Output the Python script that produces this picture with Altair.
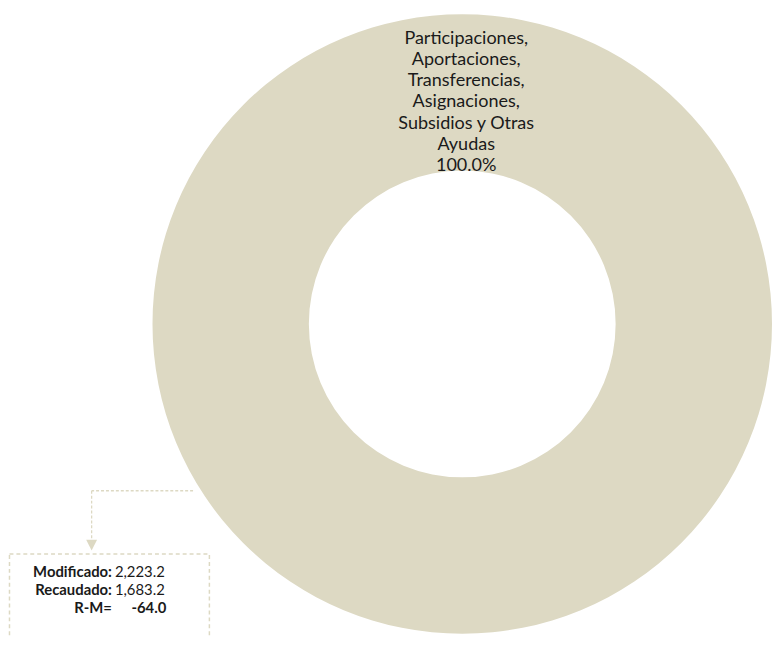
import altair as alt
import pandas as pd

# ---- data ----
categories = ["Participaciones, Aportaciones, Transferencias, Asignaciones, Subsidios y Otras Ayudas"]
label_lines = [["Participaciones,", "Aportaciones,", "Transferencias,", "Asignaciones,", "Subsidios y Otras", "Ayudas"]]
values = [1683.2]

note_labels = ["Modificado:", "Recaudado:", "R-M="]
note_values = [2223.2, 1683.2, -64.0]

# ---- layout constants (svg coordinates; page = svg + 8) ----
W, H = 772, 628
CX, CY = 459, 316
R_OUT, R_IN = 313, 155
FILL = "#ddd9c3"
LINE = "#ddd9c3"
FONT = "Lato"

total = sum(values)
donut_df = pd.DataFrame({
    "category": categories,
    "value": values,
    "label": ["\n".join(lines + [f"{v / total * 100:.1f}%"]) for lines, v in zip(label_lines, values)],
})

donut = alt.Chart(donut_df).mark_arc(
    innerRadius=R_IN, outerRadius=R_OUT, stroke=None
).encode(
    theta=alt.Theta("value:Q", stack=True),
    color=alt.Color("category:N", scale=alt.Scale(range=[FILL]), legend=None),
    x=alt.value(CX), y=alt.value(CY),
)

label = alt.Chart(donut_df).mark_text(
    lineBreak="\n", align="center", baseline="alphabetic",
    font=FONT, fontSize=18.2, lineHeight=21.4, color="#1a1a1a",
).encode(
    text="label:N", x=alt.value(CX + 4), y=alt.value(33),
)

one = pd.DataFrame({"a": [0]})

hline = alt.Chart(one).mark_rule(color=LINE, strokeWidth=1.3, strokeDash=[3, 2]).encode(
    x=alt.value(187), x2=alt.value(84.5), y=alt.value(484.5)
)
vline = alt.Chart(one).mark_rule(color=LINE, strokeWidth=1.3, strokeDash=[3, 2]).encode(
    x=alt.value(84.5), y=alt.value(484.5), y2=alt.value(535)
)
arrow = alt.Chart(one).mark_point(
    shape="M-1,-1L1,-1L0,1Z", filled=True, size=121, color=LINE, opacity=1, strokeWidth=0
).encode(x=alt.value(84.5), y=alt.value(539.5))

box = alt.Chart(one).mark_rect(
    fill="white", fillOpacity=0, stroke=LINE, strokeWidth=1.5, strokeDash=[4, 3]
).encode(x=alt.value(1.5), x2=alt.value(203.5), y=alt.value(548.5), y2=alt.value(720))

note_layers = []
ys = [572, 590, 608]
for i, (lab, val) in enumerate(zip(note_labels, note_values)):
    df = pd.DataFrame({"lab": [lab], "val": [f"{val:,.1f}"]})
    last = i == len(note_labels) - 1
    note_layers.append(
        alt.Chart(df).mark_text(
            align="right", baseline="alphabetic", font=FONT, fontSize=15,
            fontWeight="bold", color="#1a1a1a",
        ).encode(text="lab:N", x=alt.value(105), y=alt.value(ys[i]))
    )
    note_layers.append(
        alt.Chart(df).mark_text(
            align="right" if last else "left", baseline="alphabetic", font=FONT,
            fontSize=15, fontWeight="bold" if last else "normal", color="#1a1a1a",
        ).encode(text="val:N", x=alt.value(160 if last else 108), y=alt.value(ys[i]))
    )

chart = alt.layer(donut, label, hline, vline, arrow, box, *note_layers).properties(
    width=W, height=H, padding=0, autosize=alt.AutoSizeParams(type="none"),
    background="white",
).configure_view(stroke=None)

chart.save("out.html", embed_options={"renderer": "svg", "actions": False})
